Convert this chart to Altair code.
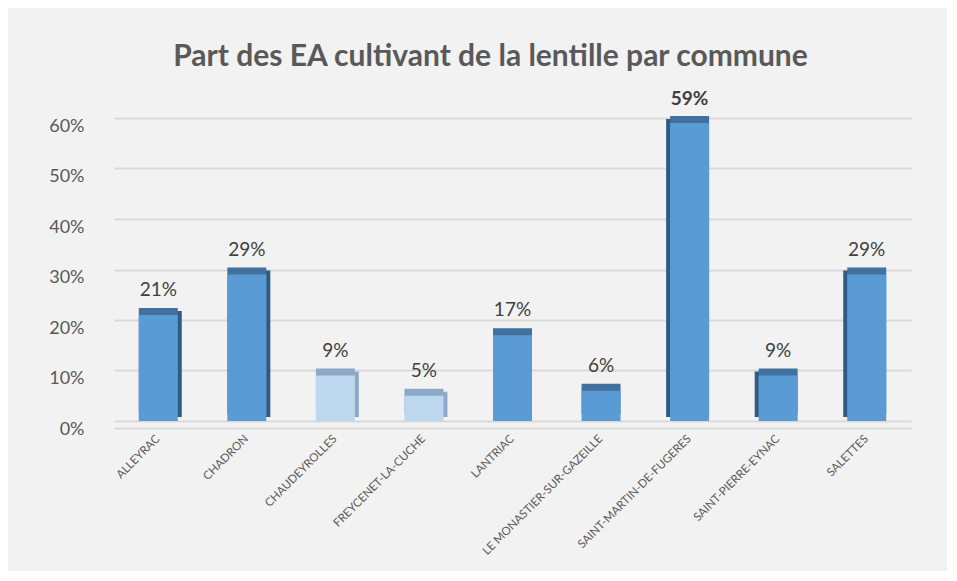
import altair as alt
import pandas as pd

communes = ["ALLEYRAC", "CHADRON", "CHAUDEYROLLES", "FREYCENET-LA-CUCHE", "LANTRIAC",
            "LE MONASTIER-SUR-GAZEILLE", "SAINT-MARTIN-DE-FUGERES", "SAINT-PIERRE-EYNAC", "SALETTES"]
parts = [0.21, 0.29, 0.09, 0.05, 0.17, 0.06, 0.59, 0.09, 0.29]
tons = ["fonce", "fonce", "clair", "clair", "fonce", "fonce", "fonce", "fonce", "fonce"]
cote = ["droite", "droite", "droite", "droite", "aucun", "aucun", "gauche", "gauche", "gauche"]
gras = ["normal", "normal", "normal", "normal", "normal", "normal", "bold", "normal", "normal"]

df = pd.DataFrame({"commune": communes, "part": parts, "ton": tons, "cote": cote, "gras": gras})

FONT = "Lato"
xs = alt.X("commune:N", sort=communes,
           scale=alt.Scale(paddingInner=0.56, paddingOuter=0.28),
           axis=alt.Axis(title=None, labelAngle=-45, labelAlign="right", labelBaseline="middle",
                         labelFontSize=11.5, labelColor="#595959", labelFont=FONT,
                         labelPadding=9, ticks=False, offset=7,
                         domainColor="#d9d9d9", domainWidth=2, grid=False))
ys = alt.Y("part:Q", scale=alt.Scale(domain=[0, 0.6], nice=False),
           axis=alt.Axis(title=None, format=".0%", values=[0, 0.1, 0.2, 0.3, 0.4, 0.5, 0.6],
                         labelFontSize=18, labelColor="#595959", labelFont=FONT,
                         labelPadding=30, labelOffset=8, ticks=False, domain=False,
                         grid=True, gridColor="#d9d9d9", gridWidth=2))

top_color = alt.Color("ton:N", scale=alt.Scale(domain=["fonce", "clair"], range=["#41719c", "#8ea9c8"]), legend=None)
front_color = alt.Color("ton:N", scale=alt.Scale(domain=["fonce", "clair"], range=["#5b9bd5", "#bdd7ee"]), legend=None)
side_color = alt.Color("ton:N", scale=alt.Scale(domain=["fonce", "clair"], range=["#2f5a82", "#8ea9c8"]), legend=None)

base = alt.Chart(df)

side_r = base.transform_filter(alt.datum.cote == "droite").mark_bar(xOffset=4, yOffset=-4, y2Offset=0).encode(
    x=xs, y=ys, color=side_color)
side_l = base.transform_filter(alt.datum.cote == "gauche").mark_bar(xOffset=-4, yOffset=-4, y2Offset=0).encode(
    x=xs, y=ys, color=side_color)
top = base.mark_bar(yOffset=-7).encode(x=xs, y=ys, color=top_color)
front = base.mark_bar().encode(x=xs, y=ys, color=front_color)

labels_n = base.transform_filter(alt.datum.gras == "normal").mark_text(
    dy=-15, fontSize=19, font=FONT, color="#404040", baseline="bottom").encode(
    x=xs, y=ys, text=alt.Text("part:Q", format=".0%"))
labels_b = base.transform_filter(alt.datum.gras == "bold").mark_text(
    dy=-14, fontSize=19, font=FONT, fontWeight="bold", color="#404040", baseline="bottom").encode(
    x=xs, y=ys, text=alt.Text("part:Q", format=".0%"))

chart = alt.layer(side_r, side_l, top, front, labels_n, labels_b).resolve_scale(
    color="independent"
).properties(
    width=797, height=303,
    title=alt.TitleParams("Part des EA cultivant de la lentille par commune",
                          fontSize=30, font=FONT, fontWeight="bold", color="#595959",
                          anchor="middle", dx=-22, offset=18),
    autosize=alt.AutoSizeParams(type="none"),
    padding={"left": 106, "top": 110, "right": 36, "bottom": 150},
).configure(background="#f2f2f2").configure_view(stroke=None)

chart.save("out.html", embed_options={"renderer": "svg", "actions": False})
